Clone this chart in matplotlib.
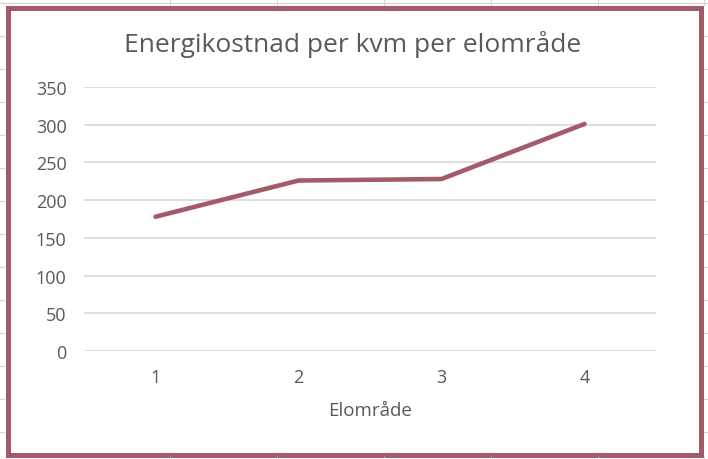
import matplotlib
matplotlib.use("Agg")
import matplotlib.pyplot as plt
from matplotlib.patches import Rectangle
from matplotlib.lines import Line2D

categories = ["1", "2", "3", "4"]
values = [178, 226, 228, 301]
yticks = [0, 50, 100, 150, 200, 250, 300, 350]
title = "Energikostnad per kvm per elområde"
xlabel = "Elområde"

W, H = 708, 460
fig = plt.figure(figsize=(W / 100, H / 100), dpi=100)
fig.patch.set_facecolor("white")

FONT = ["Open Sans", "DejaVu Sans"]
TXT = "#595959"
ROSE = "#A35B6B"

# faint spreadsheet cell lines outside the chart
for x in [170, 277, 384, 491, 598, 704]:
    fig.add_artist(Line2D([x / W, x / W], [1 - 0 / H, 1 - 6 / H], color="#D4D4D4", lw=0.8))
    fig.add_artist(Line2D([x / W, x / W], [0, 2 / H], color="#D4D4D4", lw=0.8))
for y in range(4, 460, 33):
    fig.add_artist(Line2D([0, 4 / W], [1 - y / H, 1 - y / H], color="#D4D4D4", lw=0.8))
    fig.add_artist(Line2D([704 / W, 1], [1 - y / H, 1 - y / H], color="#D4D4D4", lw=0.8))
fig.add_artist(Line2D([0, 1], [1 - 4 / H, 1 - 4 / H], color="#D4D4D4", lw=0.8))

# chart border
fig.add_artist(Rectangle((7.5 / W, 1 - 455.5 / H), (700.5 - 7.5) / W, (455.5 - 9) / H,
                         fill=False, edgecolor=ROSE, lw=3.6, transform=fig.transFigure))

ax = fig.add_axes([84 / W, 1 - 352 / H, (656 - 84) / W, (352 - 88) / H])
x = list(range(1, len(categories) + 1))
ax.plot(x, values, color=ROSE, lw=3.3, solid_capstyle="round", zorder=3)
ax.set_xlim(0.5, 4.5)
ax.set_ylim(0, 350)
ax.set_yticks(yticks)
ax.set_xticks(x)
ax.set_xticklabels(categories)
ax.yaxis.grid(True, color="#DCDCDC", lw=1.3)
ax.set_axisbelow(True)
for s in ax.spines.values():
    s.set_visible(False)
ax.tick_params(length=0, labelsize=13, labelcolor=TXT)
ax.tick_params(axis="y", pad=12.5)
ax.tick_params(axis="x", pad=12)
for lab in ax.get_xticklabels() + ax.get_yticklabels():
    lab.set_family(FONT)
ax.set_xlabel(xlabel, fontsize=13.5, color=TXT, family=FONT, labelpad=11)

fig.text(353 / W, 1 - 45 / H, title, ha="center", va="center", fontsize=19, color=TXT, family=FONT)

fig.savefig("out.png", dpi=100)
